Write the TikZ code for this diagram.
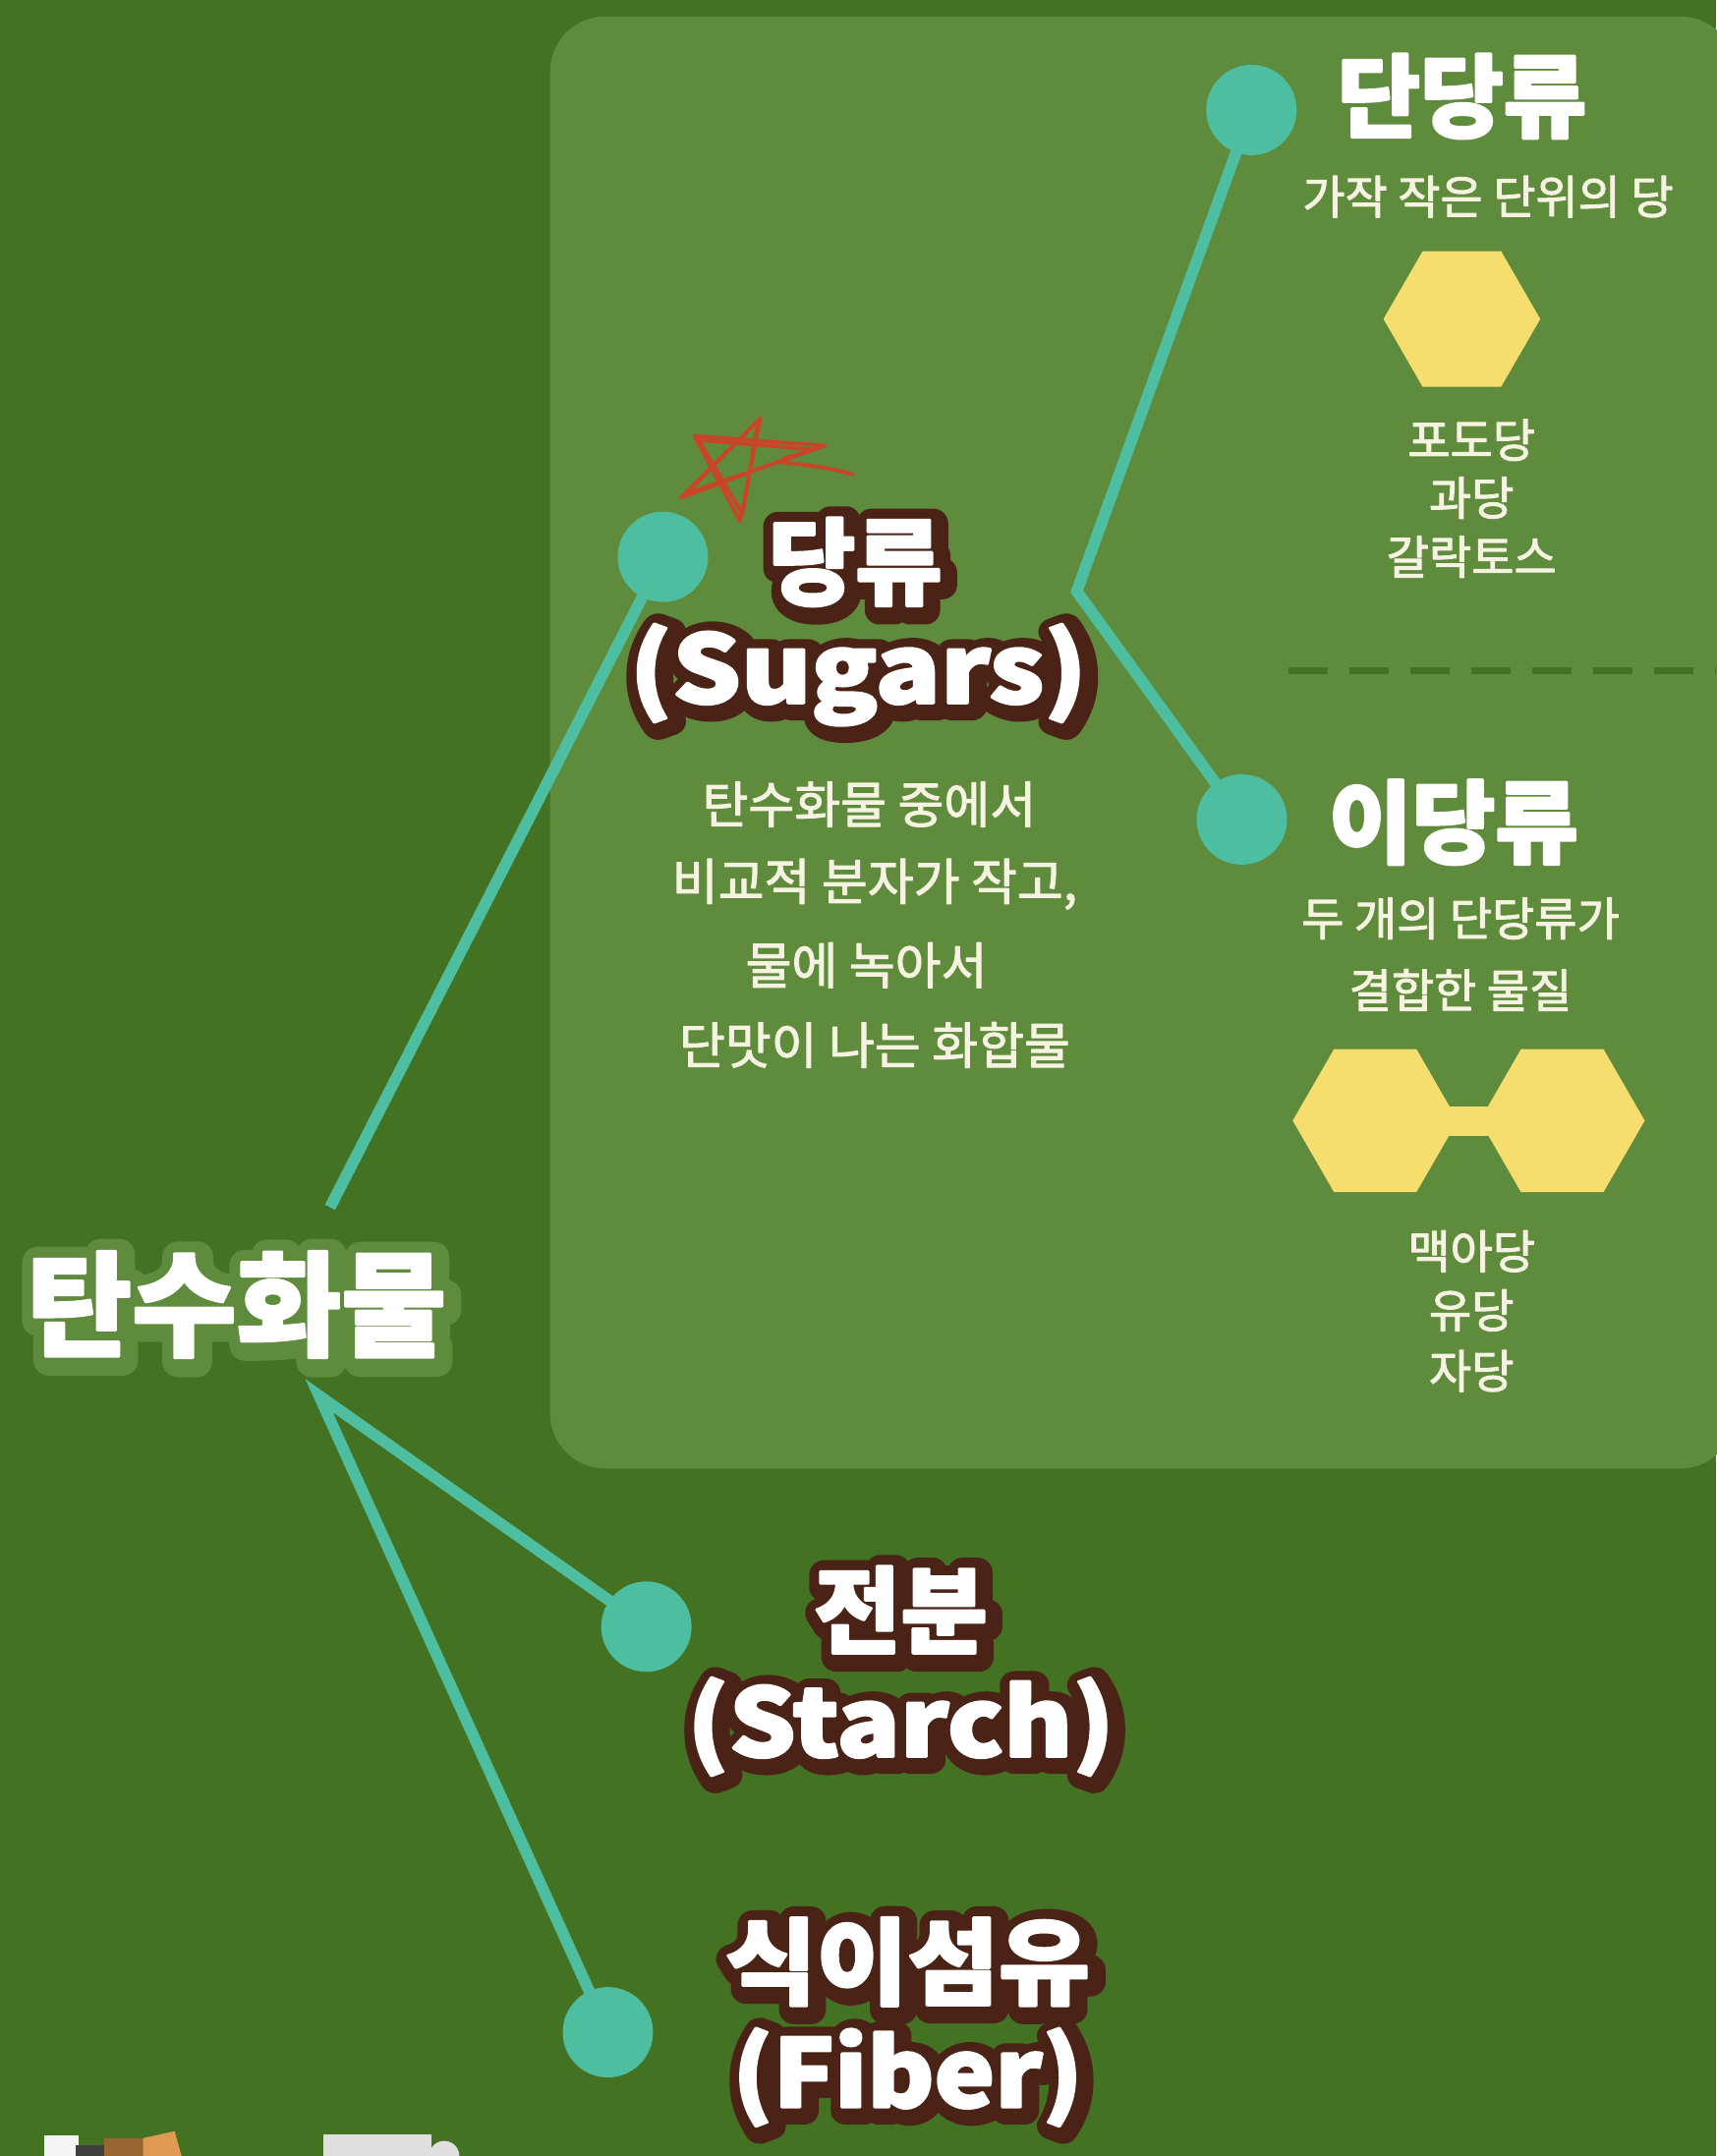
\documentclass[tikz,border=0pt]{standalone}
\usepackage{fontspec}
\usepackage{graphicx}
\setmainfont{Noto Sans CJK KR}
\usetikzlibrary{calc}
\definecolor{bgdark}{HTML}{437222}
\definecolor{panelc}{HTML}{5E8B3C}
\definecolor{tealc}{HTML}{4EBEA0}
\definecolor{hexc}{HTML}{F5DD6E}
\definecolor{brownc}{HTML}{4A2316}
\definecolor{creamc}{HTML}{F5F3E1}
\definecolor{redc}{HTML}{C8452A}
\pgfdeclarelayer{back}
\pgfdeclarelayer{lines}
\pgfsetlayers{back,lines,main}
% outlined text: #1 stroke rgb, #2 stroke width (bp), #3 text
\newcommand\outl[3]{%
  \rlap{\kern1.8pt\raisebox{-1.8pt}{\special{pdf:literal direct 1 Tr #2 w 1 j 1 J #1 RG}#3\special{pdf:literal direct 0 Tr}}}%
  \special{pdf:literal direct 2 Tr 1.3 w 1 j 1 1 1 RG}#3\special{pdf:literal direct 0 Tr}}
% slightly emboldened text: #1 stroke rgb, #2 width, #3 text
\newcommand\emb[3]{\special{pdf:literal direct 2 Tr #2 w 1 j #1 RG}#3\special{pdf:literal direct 0 Tr}}
\tikzset{
  conn/.style={line width=5.8pt, draw=tealc},
  dot/.style={circle, fill=tealc, minimum size=46pt, inner sep=0pt},
  headbig/.style={text=white, font=\bfseries\fontsize{58}{62}\selectfont, inner sep=0pt},
  head/.style={text=white, font=\bfseries\fontsize{48}{52}\selectfont, inner sep=0pt},
  headsub/.style={text=white, font=\bfseries\fontsize{46}{50}\selectfont, inner sep=0pt},
  desc/.style={text=creamc, font=\fontsize{25.5}{28}\selectfont, inner sep=0pt},
  small/.style={text=creamc, font=\fontsize{23.5}{26}\selectfont, inner sep=0pt},
  hexa/.style={fill=hexc},
}
\begin{document}
\begin{tikzpicture}[x=0.7pt,y=-0.7pt]
\useasboundingbox (0,0) rectangle (1248,1568);
\begin{pgfonlayer}{back}
  \fill[bgdark] (0,0) rectangle (1248,1568);
  \fill[panelc, rounded corners=28pt] (400,12) rectangle (1262,1068);
  % dashed divider
  \draw[bgdark, line width=3.6pt, dash pattern=on 20pt off 11pt] (937,488) -- (1248,488);
  % hexagons
  \fill[hexa] (1063,232) +(0:57) -- +(60:57) -- +(120:57) -- +(180:57) -- +(240:57) -- +(300:57) -- cycle;
  \fill[hexa] (1000,815) +(0:60) -- +(60:60) -- +(120:60) -- +(180:60) -- +(240:60) -- +(300:60) -- cycle;
  \fill[hexa] (1136,815) +(0:60) -- +(60:60) -- +(120:60) -- +(180:60) -- +(240:60) -- +(300:60) -- cycle;
  \fill[hexa] (1040,805) rectangle (1096,826);
  % cut-off pictures at bottom
  \fill[white!92!gray] (32,1553) rectangle (57,1568);
  \fill[black!75] (55,1560) rectangle (80,1568);
  \fill[brown!80!black] (76,1555) rectangle (104,1568);
  \fill[brown!60!orange!80!white] (104,1555) -- (127,1550) -- (132,1568) -- (104,1568) -- cycle;
  \fill[gray!25] (235,1552) rectangle (314,1568);
  \fill[gray!25] (312,1568) arc[start angle=180, end angle=360, radius=11] -- cycle;
\end{pgfonlayer}

% connector end points
\coordinate (rootup) at (240,878);
\coordinate (rootdn) at (232,1015);
\coordinate (branch) at (783,430);

% dots
\node[dot] (sugdot) at (482,405) {};
\node[dot] (monodot) at (910,80) {};
\node[dot] (didot) at (903,596) {};
\node[dot] (stdot) at (470,1183) {};
\node[dot] (fbdot) at (442,1478) {};

\begin{pgfonlayer}{lines}
  \draw[conn] (rootup) -- (sugdot.center);
  \draw[conn] (monodot.center) -- (branch) -- (didot.center);
  \draw[conn] (stdot.center) -- (rootdn) -- (fbdot.center);
\end{pgfonlayer}

% red star doodle
\draw[redc, line width=1.9pt, line join=round, line cap=round]
  (553,304) -- (538,379) -- (505,317) -- (598,324) -- (495,362) -- (553,304)
  (551,308) -- (540,374) -- (508,320) -- (592,327) -- (499,359) -- (550,307)
  (566,336) .. controls (585,338) and (603,340) .. (620,345)
  (570,333) .. controls (582,330) and (592,327) .. (600,324);

% root
\node[headbig] (root) at (172,950) {\outl{0.369 0.545 0.235}{16}{탄수화물}};

% sugars
\node[head] (sugT) at (622,410) {\outl{0.29 0.137 0.086}{15}{당류}};
\node[head] (sugE) at (624,492) {\scalebox{1.14}[1]{\outl{0.29 0.137 0.086}{14}{(Sugars)}}};
\node[desc] (sd1) at (632,585) {\emb{0.96 0.95 0.88}{0.5}{탄수화물 중에서}};
\node[desc] (sd2) at (636,643) {\emb{0.96 0.95 0.88}{0.5}{비교적 분자가 작고,}};
\node[desc] (sd3) at (630,702) {\emb{0.96 0.95 0.88}{0.5}{물에 녹아서}};
\node[desc] (sd4) at (636,760) {\emb{0.96 0.95 0.88}{0.5}{단맛이 나는 화합물}};

% monosaccharides
\node[headsub] (mono) at (1063,70) {\emb{1 1 1}{1.3}{단당류}};
\node[small] (monod) at (1082,143) {\emb{0.96 0.95 0.88}{0.5}{가작 작은 단위의 당}};
\node[small] (m1) at (1070,320) {\emb{0.96 0.95 0.88}{0.5}{포도당}};
\node[small] (m2) at (1070,362) {\emb{0.96 0.95 0.88}{0.5}{과당}};
\node[small] (m3) at (1070,405) {\emb{0.96 0.95 0.88}{0.5}{갈락토스}};

% disaccharides
\node[headsub] (di) at (1057,598) {\emb{1 1 1}{1.3}{이당류}};
\node[small] (did1) at (1062,668) {\emb{0.96 0.95 0.88}{0.5}{두 개의 단당류가}};
\node[small] (did2) at (1062,720) {\emb{0.96 0.95 0.88}{0.5}{결합한 물질}};
\node[small] (d1) at (1070,910) {\emb{0.96 0.95 0.88}{0.5}{맥아당}};
\node[small] (d2) at (1070,953) {\emb{0.96 0.95 0.88}{0.5}{유당}};
\node[small] (d3) at (1070,997) {\emb{0.96 0.95 0.88}{0.5}{자당}};

% starch
\node[head] (stT) at (655,1172) {\outl{0.29 0.137 0.086}{15}{전분}};
\node[head] (stE) at (655,1257) {\scalebox{1.11}[1]{\outl{0.29 0.137 0.086}{14}{(Starch)}}};

% fiber
\node[head] (fbT) at (660,1428) {\scalebox{1.05}[1]{\outl{0.29 0.137 0.086}{15}{식이섬유}}};
\node[head] (fbE) at (660,1512) {\scalebox{1.08}[1]{\outl{0.29 0.137 0.086}{14}{(Fiber)}}};
\end{tikzpicture}
\end{document}
